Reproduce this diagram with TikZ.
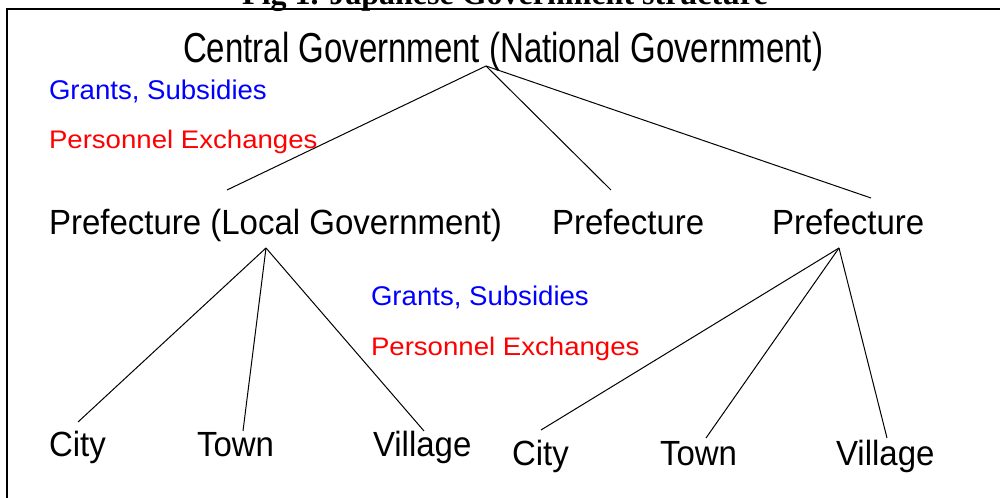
\documentclass[tikz,border=0pt]{standalone}
\usepackage{fontspec}
\usepackage{graphicx}
\setmainfont{Liberation Sans}
\newfontfamily\figtitlefont{Liberation Serif}
\definecolor{grantblue}{RGB}{0,0,255}
\definecolor{persred}{RGB}{255,0,0}
\newcommand\mytxt[2][1.06]{\scalebox{1}[#1]{\fontsize{24.75pt}{30pt}\selectfont #2}}
\newcommand\granttxt[1]{\scalebox{1}[0.98]{\fontsize{20.7pt}{24pt}\selectfont #1}}
\newcommand\perstxt[1]{\scalebox{1}[0.92]{\fontsize{20.7pt}{24pt}\selectfont #1}}
\tikzset{
  lbl/.style={anchor=base west, inner sep=0pt, outer sep=0pt},
  link/.style={line width=0.75pt, draw=black},
  frame/.style={line width=1.6pt, draw=black},
  grant/.style={lbl, text=grantblue},
  pers/.style={lbl, text=persred}
}
\begin{document}
\begin{tikzpicture}[x=0.75pt, y=-0.75pt]
  \useasboundingbox (0,0) rectangle (1000,498);
  % frame (top and left sides)
  \coordinate (fbl) at (7,510);
  \coordinate (ftl) at (7,9);
  \coordinate (ftr) at (1010,9);
  \draw[frame] (fbl) -- (ftl) -- (ftr);
  % title (cut off by the page)
  \node[anchor=base, inner sep=0pt, font=\figtitlefont\bfseries\fontsize{24pt}{28pt}\selectfont] (title) at (505,5) {Fig 1. Japanese Government structure};
  % texts
  \node[lbl] (central) at (183,63) {\mytxt[1.27]{Central Government (National Government)}};
  \node[grant] (g1) at (49,100) {\granttxt{Grants, Subsidies}};
  \node[pers] (p1) at (49,149) {\perstxt{Personnel Exchanges}};
  \node[lbl] (pref1) at (49,235) {\mytxt{Prefecture (Local Government)}};
  \node[lbl] (pref2) at (552,235) {\mytxt{Prefecture}};
  \node[lbl] (pref3) at (772,235) {\mytxt{Prefecture}};
  \node[grant] (g2) at (371,306) {\granttxt{Grants, Subsidies}};
  \node[pers] (p2) at (371,356) {\perstxt{Personnel Exchanges}};
  \node[lbl] (city1) at (49,457) {\mytxt{City}};
  \node[lbl] (town1) at (197,457) {\mytxt{Town}};
  \node[lbl] (vill1) at (373,457) {\mytxt{Village}};
  \node[lbl] (city2) at (512,466) {\mytxt{City}};
  \node[lbl] (town2) at (660,466) {\mytxt{Town}};
  \node[lbl] (vill2) at (836,466) {\mytxt{Village}};
  % connector end points
  \coordinate (cA) at (486,66);
  \coordinate (p1t) at (227,190);
  \coordinate (p2t) at (611,190);
  \coordinate (p3t) at (871,198);
  \coordinate (p1b) at (266,248);
  \coordinate (c1t) at (78,422);
  \coordinate (t1t) at (243,431);
  \coordinate (v1t) at (424,431);
  \coordinate (p3b) at (839,248);
  \coordinate (c2t) at (541,430);
  \coordinate (t2t) at (706,438);
  \coordinate (v2t) at (887,438);
  % connectors
  \draw[link] (cA) -- (p1t);
  \draw[link] (cA) -- (p2t);
  \draw[link] (cA) -- (p3t);
  \draw[link] (p1b) -- (c1t);
  \draw[link] (p1b) -- (t1t);
  \draw[link] (p1b) -- (v1t);
  \draw[link] (p3b) -- (c2t);
  \draw[link] (p3b) -- (t2t);
  \draw[link] (p3b) -- (v2t);
\end{tikzpicture}
\end{document}
